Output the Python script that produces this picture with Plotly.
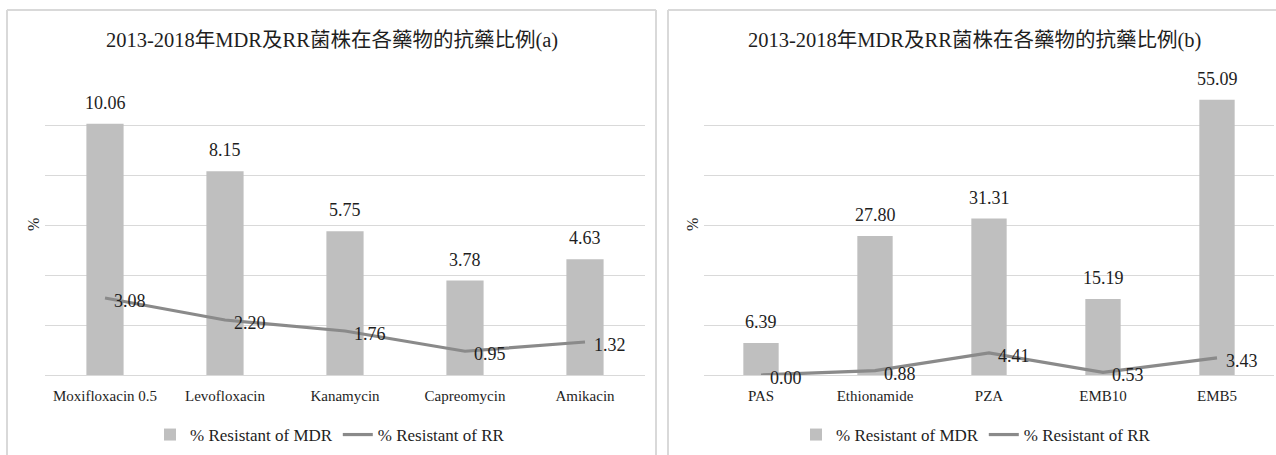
import plotly.graph_objects as go

W, H = 1276, 455

# ---- data ----
drugs_a = ["Moxifloxacin 0.5", "Levofloxacin", "Kanamycin", "Capreomycin", "Amikacin"]
mdr_a = [10.06, 8.15, 5.75, 3.78, 4.63]
rr_a = [3.08, 2.20, 1.76, 0.95, 1.32]

drugs_b = ["PAS", "Ethionamide", "PZA", "EMB10", "EMB5"]
mdr_b = [6.39, 27.80, 31.31, 15.19, 55.09]
rr_b = [0.00, 0.88, 4.41, 0.53, 3.43]

titles = [
    "2013-2018年MDR及RR菌株在各藥物的抗藥比例(a)",
    "2013-2018年MDR及RR菌株在各藥物的抗藥比例(b)",
]
series_names = ["% Resistant of MDR", "% Resistant of RR"]
y_max = [12, 60]
y_step = [2, 10]

# ---- styling ----
FONT = "Liberation Serif"
TITLE_FONT = "Liberation Serif, Noto Sans CJK TC"
TEXT = "#1e1e1e"
BAR = "#BFBFBF"
LINE = "#8A8A8A"
GRID = "#D9D9D9"


def px(x):
    return x / W


def py(y):
    return 1 - y / H


# plot-area pixel boxes for the two panels
plot_x = [(45, 645), (704, 1274)]
plot_y = (75, 375)
panel_box = [(7, 656), (668, 1290)]
legend_cx = [330, 976]

fig = go.Figure()
annotations = []
panels = [(drugs_a, mdr_a, rr_a), (drugs_b, mdr_b, rr_b)]

for i, (drugs, mdr, rr) in enumerate(panels):
    xa = "x" if i == 0 else "x2"
    ya = "y" if i == 0 else "y2"
    lg = "legend" if i == 0 else "legend2"
    fig.add_trace(go.Bar(
        x=drugs, y=mdr, name=series_names[0], marker=dict(color=BAR, line=dict(width=0)),
        xaxis=xa, yaxis=ya, legend=lg, hoverinfo="x+y",
    ))
    fig.add_trace(go.Scatter(
        x=drugs, y=rr, name=series_names[1], mode="lines",
        line=dict(color=LINE, width=3.2), xaxis=xa, yaxis=ya, legend=lg,
    ))
    # value labels
    for d, v in zip(drugs, mdr):
        annotations.append(dict(
            x=d, y=v, xref=xa, yref=ya, text=f"{v:.2f}", showarrow=False,
            yanchor="bottom", yshift=9, font=dict(family=FONT, size=18, color=TEXT),
        ))
    for d, v in zip(drugs, rr):
        annotations.append(dict(
            x=d, y=v, xref=xa, yref=ya, text=f"{v:.2f}", showarrow=False,
            xanchor="left", xshift=7, yanchor="middle", yshift=-3,
            font=dict(family=FONT, size=18, color=TEXT),
        ))
    # panel title
    x0, x1 = panel_box[i]
    cx = (x0 + min(x1, 1280)) / 2
    annotations.append(dict(
        x=px(cx), y=py(40), xref="paper", yref="paper", text=titles[i],
        showarrow=False, xanchor="center", yanchor="middle",
        font=dict(family=TITLE_FONT, size=20.5, color=TEXT),
    ))
    # y-axis title
    annotations.append(dict(
        x=px(plot_x[i][0] - 12), y=py(225), xref="paper", yref="paper", text="%",
        showarrow=False, textangle=-90, xanchor="center", yanchor="middle",
        font=dict(family=FONT, size=16, color=TEXT),
    ))

axis_common_x = dict(
    showgrid=False, showline=False, zeroline=False, ticks="",
    tickfont=dict(family=FONT, size=15, color=TEXT), ticklabelstandoff=10,
    fixedrange=True,
)

layout_axes = {}
for i in range(2):
    sx = "" if i == 0 else "2"
    layout_axes["xaxis" + sx] = dict(
        axis_common_x, domain=[px(plot_x[i][0]), px(plot_x[i][1])],
        anchor="y" + sx,
    )
    layout_axes["yaxis" + sx] = dict(
        range=[0, y_max[i] * 1.0005], dtick=y_step[i], tick0=0,
        showticklabels=False, ticks="", showline=False,
        showgrid=True, gridcolor=GRID, gridwidth=1.3,
        zeroline=True, zerolinecolor=GRID, zerolinewidth=1.3,
        domain=[py(plot_y[1]), py(plot_y[0])], anchor="x" + sx, fixedrange=True,
    )

legend_common = dict(
    orientation="h", xanchor="center", yanchor="middle", y=py(435),
    font=dict(family=FONT, size=17, color=TEXT), bgcolor="rgba(0,0,0,0)",
    itemwidth=30, tracegroupgap=0,
)

# panel frames
shapes = []
for (x0, x1), closed in zip(panel_box, [True, False]):
    line = dict(color=GRID, width=2)
    shapes.append(dict(type="line", xref="paper", yref="paper",
                       x0=px(x0), x1=px(min(x1, W + 2)), y0=py(10), y1=py(10), line=line))
    shapes.append(dict(type="line", xref="paper", yref="paper",
                       x0=px(x0), x1=px(x0), y0=py(10), y1=py(H + 2), line=line))
    if closed:
        shapes.append(dict(type="line", xref="paper", yref="paper",
                           x0=px(x1), x1=px(x1), y0=py(10), y1=py(H + 2), line=line))

fig.update_layout(
    width=W, height=H, margin=dict(l=0, r=0, t=0, b=0),
    paper_bgcolor="white", plot_bgcolor="white",
    bargap=0.69, showlegend=True,
    legend=dict(legend_common, x=px(legend_cx[0])),
    legend2=dict(legend_common, x=px(legend_cx[1])),
    annotations=annotations, shapes=shapes,
    **layout_axes,
)

fig.write_html("out.html")
